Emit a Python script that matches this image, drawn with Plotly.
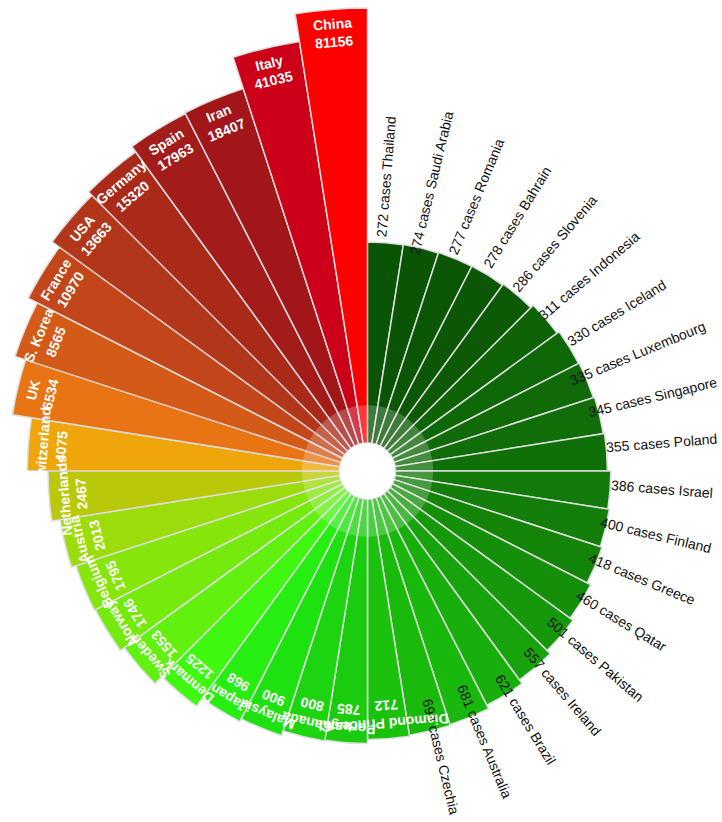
import math
import plotly.graph_objects as go

# Confirmed cases per country, ordered clockwise from 12 o'clock
countries = [
    "Thailand", "Saudi Arabia", "Romania", "Bahrain", "Slovenia", "Indonesia",
    "Iceland", "Luxembourg", "Singapore", "Poland", "Israel", "Finland",
    "Greece", "Qatar", "Pakistan", "Ireland", "Brazil", "Australia", "Czechia",
    "Diamond Princess", "Portugal", "Canada", "Malaysia", "Japan", "Denmark",
    "Sweden", "Norway", "Belgium", "Austria", "Netherlands", "Switzerland",
    "UK", "S. Korea", "France", "USA", "Germany", "Spain", "Iran", "Italy",
    "China",
]
cases = [
    272, 274, 277, 278, 286, 311, 330, 335, 345, 355, 386, 400, 418, 460,
    501, 557, 621, 681, 694, 712, 785, 800, 900, 968, 1225, 1553, 1746,
    1795, 2013, 2467, 4075, 6534, 8565, 10970, 13663, 15320, 17963, 18407,
    41035, 81156,
]
bar_colors = [
    "#0a5505", "#0a5505", "#0b5605", "#0b5706", "#0c5906", "#0e6307",
    "#0f6807", "#0f6a07", "#106d08", "#107008", "#127a09", "#137e09",
    "#148409", "#158f0a", "#16980b", "#17a30c", "#18ae0c", "#19b80d",
    "#1aba0d", "#1ac20e", "#1bcc0e", "#1cd40f", "#1ee20f", "#26ee10",
    "#3ff810", "#62f00e", "#74ea0d", "#86e60c", "#9cdc0a", "#bac80a",
    "#eea60a", "#e87414", "#d45a18", "#c2461a", "#b2361a", "#aa2a1a",
    "#a41c1a", "#a2161a", "#cc0018", "#ff0000",
]
INSIDE_LABEL_MIN = 700  # bars above this carry their label inside

# Geometry (pixels)
W, H = 722, 822
CX, CY = 367.5, 471.0          # centre of the rose
HOLE_PX = 28.0                 # white hub
PX_PER_DECADE = 94.55          # radial log scale
LOG_MIN = 0.309                # log10 value at the hub edge
RING_VALUE = 5.1               # translucent ring around the hub
OUTER_LABEL_R = 295.0          # centre radius of the outside labels
FONT = "Arial, Liberation Sans, sans-serif"
FS = 14

# The rose is assembled from angular panels (clockwise degrees from north),
# each a polar subplot sized to its own longest bar so the long bars fit.
panels = [(0, 270), (270, 288), (288, 306), (306, 315), (315, 360)]

n = len(countries)
step = 360.0 / n
theta = [step * i + step / 2 for i in range(n)]


def radius_px(v):
    return HOLE_PX + PX_PER_DECADE * (math.log10(v) - LOG_MIN)


def to_paper(r, th, perp=0.0):
    a = math.radians(th)
    x = CX + r * math.sin(a) + perp * math.cos(a)
    y = CY - r * math.cos(a) + perp * math.sin(a)
    return x / W, 1 - y / H


def sector_bbox(a0, a1):
    """Bounding box (unit radius, centre included) of a ccw sector a0..a1."""
    pts = [(0.0, 0.0)]
    for a in [a0, a1] + [k * 90 for k in range(-4, 9) if a0 < k * 90 < a1]:
        pts.append((math.cos(math.radians(a)), math.sin(math.radians(a))))
    xs, ys = zip(*pts)
    return min(xs), min(ys), max(xs), max(ys)


fig = go.Figure()
layout_polars = {}
for k, (t0, t1) in enumerate(panels):
    sid = "polar" if k == 0 else f"polar{k + 1}"
    idx = [i for i in range(n) if t0 < theta[i] < t1]
    R = radius_px(max(cases[i] for i in idx)) + 3
    log_max = LOG_MIN + (R - HOLE_PX) / PX_PER_DECADE

    fig.add_trace(go.Barpolar(
        r=[cases[i] for i in idx], theta=[theta[i] for i in idx],
        width=[step] * len(idx),
        marker=dict(color=[bar_colors[i] for i in idx],
                    line=dict(color="#dddddd", width=1.5)),
        hoverinfo="skip", subplot=sid,
    ))
    fig.add_trace(go.Barpolar(
        r=[RING_VALUE], theta=[(t0 + t1) / 2], width=[t1 - t0],
        marker=dict(color="rgba(255,255,255,0.22)", line=dict(width=0)),
        hoverinfo="skip", subplot=sid,
    ))

    # sector in screen angles (ccw from east)
    s0, s1 = 90 - t1, 90 - t0
    bx0, by0, bx1, by1 = sector_bbox(s0, s1)
    layout_polars[sid] = dict(
        sector=[s0, s1],
        domain=dict(x=[(CX + R * bx0) / W, (CX + R * bx1) / W],
                    y=[1 - (CY - R * by0) / H, 1 - (CY - R * by1) / H]),
        hole=HOLE_PX / R,
        bgcolor="rgba(0,0,0,0)",
        barmode="overlay",
        radialaxis=dict(type="log", range=[LOG_MIN, log_max], visible=False,
                        showgrid=False),
        angularaxis=dict(direction="clockwise", rotation=90, visible=False,
                         showgrid=False),
    )

annotations = []
for name, v, th in zip(countries, cases, theta):
    r_end = radius_px(v)
    if v > INSIDE_LABEL_MIN:
        for txt, dr in ((name, 15), (str(v), 33)):
            x, y = to_paper(r_end - dr, th)
            annotations.append(dict(
                x=x, y=y, xref="paper", yref="paper", text=f"<b>{txt}</b>",
                showarrow=False, textangle=th, xanchor="center", yanchor="middle",
                font=dict(family=FONT, size=FS, color="white"),
            ))
    else:
        x, y = to_paper(OUTER_LABEL_R, th, perp=-5)
        annotations.append(dict(
            x=x, y=y, xref="paper", yref="paper", text=f"{v} cases {name}",
            showarrow=False, textangle=th - 90, xanchor="center", yanchor="middle",
            font=dict(family=FONT, size=FS, color="#111111"),
        ))

fig.update_layout(
    width=W, height=H,
    margin=dict(l=0, r=0, t=0, b=0),
    paper_bgcolor="white",
    showlegend=False,
    annotations=annotations,
    **layout_polars,
)

fig.write_html("out.html")
